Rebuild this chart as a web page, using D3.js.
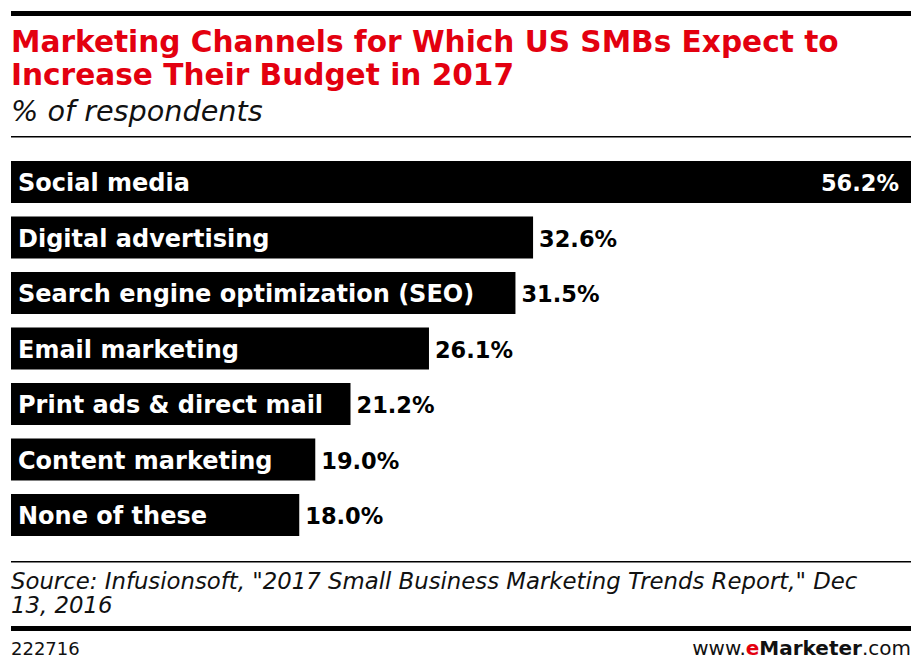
<!DOCTYPE html>
<html>
<head>
<meta charset="utf-8">
<script src="https://cdn.jsdelivr.net/npm/d3@7"></script>
<style>
  body { margin: 0; background: #fff; }
  text { font-family: "DejaVu Sans", sans-serif; }
</style>
</head>
<body>
<script>
// chart data
const categories = ["Social media", "Digital advertising", "Search engine optimization (SEO)",
  "Email marketing", "Print ads & direct mail", "Content marketing", "None of these"];
const values = [56.2, 32.6, 31.5, 26.1, 21.2, 19.0, 18.0];

const titleLines = ["Marketing Channels for Which US SMBs Expect to", "Increase Their Budget in 2017"];
const subtitle = "% of respondents";
const sourceLines = ["Source: Infusionsoft, \"2017 Small Business Marketing Trends Report,\" Dec", "13, 2016"];
const chartId = "222716";

function render() {
  const w = 922, h = 672;

  let svg = d3.select("body").append("svg")
    .attr("width", w)
    .attr("height", h);

  // top rule
  svg.append("rect").attr("x", 11).attr("y", 11).attr("width", 900).attr("height", 5).attr("fill", "#000");

  svg.selectAll(".title")
    .data(titleLines)
    .enter()
    .append("text")
    .attr("class", "title")
    .attr("x", 11)
    .attr("y", function (d, i) { return 52 + i * 33; })
    .attr("fill", "#e3000f")
    .style("font-weight", 700)
    .style("font-size", "29.6px")
    .text(function (d) { return d; });

  svg.append("text")
    .attr("x", 11).attr("y", 121)
    .style("font-style", "italic")
    .style("font-size", "28.7px")
    .attr("fill", "#111")
    .text(subtitle);

  svg.append("rect").attr("x", 11).attr("y", 136).attr("width", 900).attr("height", 1.5).attr("fill", "#000");

  // bars
  let x = d3.scaleLinear()
    .domain([0, d3.max(values)])
    .range([11, 911]);

  let y = d3.scaleBand()
    .domain(categories)
    .range([161, 536])
    .paddingInner(13.5 / 55.5)
    .paddingOuter(0);

  let rows = svg.selectAll(".row")
    .data(categories.map(function (c, i) { return { cat: c, val: values[i], i: i }; }))
    .enter()
    .append("g")
    .attr("class", "row");

  rows.append("rect")
    .attr("x", x(0))
    .attr("y", function (d) { return y(d.cat); })
    .attr("width", function (d) { return x(d.val) - x(0); })
    .attr("height", y.bandwidth())
    .attr("fill", "#000");

  rows.append("text")
    .attr("x", x(0) + 7)
    .attr("y", function (d) { return y(d.cat) + y.bandwidth() / 2 + 9; })
    .attr("fill", "#fff")
    .style("font-weight", 700)
    .style("font-size", "24px")
    .text(function (d) { return d.cat; });

  rows.append("text")
    .attr("x", function (d) { return d.i === 0 ? x(d.val) - 12 : x(d.val) + 6; })
    .attr("text-anchor", function (d) { return d.i === 0 ? "end" : "start"; })
    .attr("y", function (d) { return y(d.cat) + y.bandwidth() / 2 + 9; })
    .attr("fill", function (d) { return d.i === 0 ? "#fff" : "#000"; })
    .style("font-weight", 700)
    .style("font-size", "22.5px")
    .text(function (d) { return d.val.toFixed(1) + "%"; });

  // footer
  svg.append("rect").attr("x", 11).attr("y", 561).attr("width", 900).attr("height", 1.5).attr("fill", "#000");

  svg.selectAll(".source")
    .data(sourceLines)
    .enter()
    .append("text")
    .attr("class", "source")
    .attr("x", 11)
    .attr("y", function (d, i) { return 589 + i * 24; })
    .style("font-style", "italic")
    .style("font-size", "22.8px")
    .attr("fill", "#111")
    .text(function (d) { return d; });

  svg.append("rect").attr("x", 11).attr("y", 626).attr("width", 900).attr("height", 5).attr("fill", "#000");

  svg.append("text")
    .attr("x", 11).attr("y", 655)
    .style("font-size", "18px")
    .attr("fill", "#111")
    .text(chartId);

  let brand = svg.append("text")
    .attr("x", 911).attr("y", 655)
    .attr("text-anchor", "end")
    .style("font-size", "20px")
    .attr("fill", "#111");
  brand.append("tspan").text("www.");
  brand.append("tspan").attr("fill", "#e3000f").style("font-weight", 700).text("e");
  brand.append("tspan").style("font-weight", 700).text("Marketer");
  brand.append("tspan").text(".com");
}

render();
</script>
</body>
</html>
